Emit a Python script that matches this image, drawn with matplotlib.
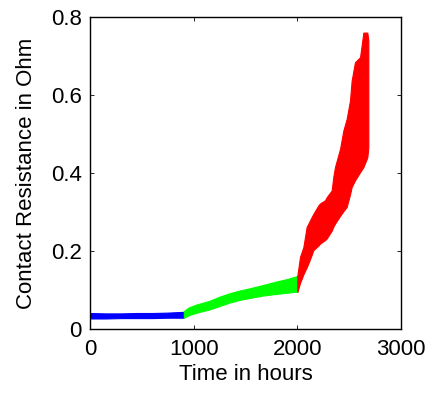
import matplotlib
matplotlib.use("Agg")
import matplotlib.pyplot as plt

plt.rcParams['font.family'] = ['Liberation Sans', 'DejaVu Sans']

# Envelope of the measured contact resistance (hours, ohm) for each ageing phase
phase1_hours = [0, 150, 300, 450, 600, 750, 905]
phase1_low = [0.027, 0.027, 0.028, 0.028, 0.028, 0.029, 0.029]
phase1_high = [0.041, 0.040, 0.040, 0.041, 0.041, 0.042, 0.044]

phase2_hours = [905, 950, 1029, 1150, 1250, 1350, 1450, 1550, 1672, 1800, 1900, 2000]
phase2_low = [0.029, 0.035, 0.042, 0.050, 0.059, 0.068, 0.075, 0.080, 0.086, 0.090, 0.093, 0.096]
phase2_high = [0.046, 0.055, 0.063, 0.072, 0.083, 0.092, 0.099, 0.105, 0.113, 0.122, 0.128, 0.136]

phase3_hours = [2000, 2026, 2058, 2090, 2106, 2138, 2154, 2203, 2219, 2267, 2283, 2331,
                2347, 2363, 2412, 2444, 2476, 2508, 2524, 2556, 2605, 2637, 2675, 2685]
phase3_low = [0.095, 0.118, 0.140, 0.158, 0.168, 0.190, 0.202, 0.214, 0.219, 0.228, 0.232, 0.252,
              0.262, 0.270, 0.290, 0.302, 0.313, 0.345, 0.364, 0.381, 0.402, 0.415, 0.440, 0.466]
phase3_high = [0.137, 0.185, 0.210, 0.262, 0.270, 0.287, 0.295, 0.317, 0.322, 0.330, 0.338, 0.355,
               0.390, 0.415, 0.462, 0.509, 0.539, 0.586, 0.637, 0.684, 0.697, 0.760, 0.760, 0.740]

x_ticks = [0, 1000, 2000, 3000]
y_ticks = [0, 0.2, 0.4, 0.6, 0.8]
y_tick_labels = ['0', '0.2', '0.4', '0.6', '0.8']

fig = plt.figure(figsize=(4.27, 3.96), dpi=100)
ax = fig.add_axes([90 / 427, 1 - 329 / 396, 311 / 427, 312 / 396])

ax.fill_between(phase1_hours, phase1_low, phase1_high, color='#0000ff', linewidth=0.8, edgecolor='#0000ff')
ax.fill_between(phase2_hours, phase2_low, phase2_high, color='#00ff00', linewidth=0.8, edgecolor='#00ff00')
ax.fill_between(phase3_hours, phase3_low, phase3_high, color='#ff0000', linewidth=0.8, edgecolor='#ff0000')

ax.set_xlim(0, 3000)
ax.set_ylim(0, 0.8)
ax.set_xticks(x_ticks)
ax.set_xticklabels([str(t) for t in x_ticks])
ax.set_yticks(y_ticks)
ax.set_yticklabels(y_tick_labels)

ax.tick_params(direction='in', length=3, width=0.6, top=True, right=True,
               labelsize=16, colors='black')
ax.tick_params(axis='x', pad=7.3)
ax.tick_params(axis='y', pad=6)
for spine in ax.spines.values():
    spine.set_linewidth(1.0)
    spine.set_color('black')

ax.set_xlabel('Time in hours', fontsize=16, labelpad=2.5)
ax.set_ylabel('Contact Resistance in Ohm', fontsize=16, labelpad=10)

fig.savefig('out.png', dpi=100)
